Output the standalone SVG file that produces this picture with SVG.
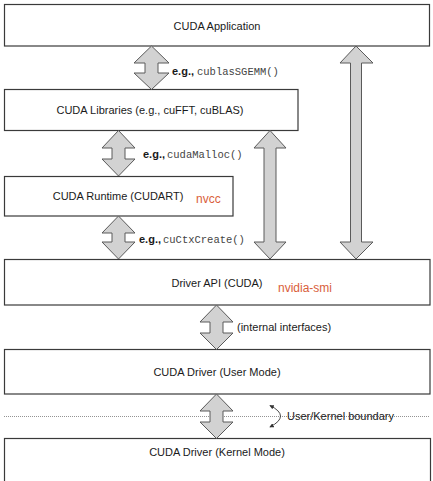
<svg xmlns="http://www.w3.org/2000/svg" width="433" height="481" viewBox="0 0 433 481">
<style>
.box{fill:#fff;stroke:#3a3a3a;stroke-width:1.2}
.lbl{font-family:"Liberation Sans",Arial,sans-serif;font-size:11px;fill:#1a1a1a}
.mid{text-anchor:middle}
.mono{font-family:"Liberation Mono","Courier New",monospace;font-size:10.5px;fill:#444}
.eg{font-weight:bold}
.red{font-family:"Liberation Sans",Arial,sans-serif;font-size:12px;fill:#d9603b}
.arr{fill:#d2d2d2;stroke:#5a5a5a;stroke-width:1;stroke-linejoin:miter}
</style>
<defs>
<marker id="ah" viewBox="0 0 6 6" refX="5" refY="3" markerWidth="5" markerHeight="5" orient="auto-start-reverse">
<path d="M0,0 L6,3 L0,6 z" fill="#333"/>
</marker>
</defs>
<rect width="433" height="481" fill="#fff"/>
<g id="app"><rect class="box" x="4.5" y="4.5" width="425" height="41.5"/><text class="lbl mid" x="217" y="30">CUDA Application</text></g>
<g id="libraries"><rect class="box" x="4.5" y="89.5" width="293.5" height="41"/><text class="lbl mid" x="150" y="114">CUDA Libraries (e.g., cuFFT, cuBLAS)</text></g>
<g id="runtime"><rect class="box" x="4.5" y="176.5" width="228.5" height="39.5"/><text class="lbl mid" x="118" y="200">CUDA Runtime (CUDART)</text><text class="red" x="196" y="203">nvcc</text></g>
<g id="driverapi"><rect class="box" x="4.5" y="259.5" width="425.5" height="45.5"/><text class="lbl mid" x="217" y="287">Driver API (CUDA)</text><text class="red" x="278" y="292">nvidia-smi</text></g>
<g id="usermode"><rect class="box" x="4.5" y="349.5" width="425.5" height="44.5"/><text class="lbl mid" x="217" y="376">CUDA Driver (User Mode)</text></g>
<g id="kernelmode"><rect class="box" x="4.5" y="438.5" width="426" height="50"/><text class="lbl mid" x="217" y="456">CUDA Driver (Kernel Mode)</text></g>
<g id="boundary">
<line x1="4" y1="416.5" x2="430" y2="416.5" stroke="#777" stroke-width="0.8" stroke-dasharray="1,1"/>
<path d="M270 405.5 Q291 416 270 427" fill="none" stroke="#333" stroke-width="0.9" marker-start="url(#ah)" marker-end="url(#ah)"/>
<text class="lbl" x="287" y="420">User/Kernel boundary</text>
</g>
<g id="connectors">
<polygon class="arr" points="151.5,46 169,63 158,63 158,73 169,73 151.5,89.5 134,73 145,73 145,63 134,63"/>
<polygon class="arr" points="118.5,130.5 135,148 125,148 125,159 135,159 118.5,176 102,159 112,159 112,148 102,148"/>
<polygon class="arr" points="118.5,216 135,233 125,233 125,242 135,242 118.5,259 102,242 112,242 112,233 102,233"/>
<polygon class="arr" points="270,130.5 286,148 276,148 276,242 286,242 270,259 254,242 264,242 264,148 254,148"/>
<polygon class="arr" points="356,46 373,63 361.5,63 361.5,242 373,242 356,259 340,242 350.5,242 350.5,63 340,63"/>
<polygon class="arr" points="216.5,305 233,322 223,322 223,333 233,333 216.5,349.5 200,333 210,333 210,322 200,322"/>
<polygon class="arr" points="216.5,394 233,411 223,411 223,422 233,422 216.5,438.5 200,422 210,422 210,411 200,411"/>
</g>
<g id="labels">
<text x="172" y="75"><tspan class="lbl eg">e.g.,</tspan><tspan class="mono" x="197">cublasSGEMM()</tspan></text>
<text x="143" y="158"><tspan class="lbl eg">e.g.,</tspan><tspan class="mono" x="167">cudaMalloc()</tspan></text>
<text x="139" y="243"><tspan class="lbl eg">e.g.,</tspan><tspan class="mono" x="163">cuCtxCreate()</tspan></text>
<text class="lbl" x="237" y="331">(internal interfaces)</text>
</g>
</svg>
